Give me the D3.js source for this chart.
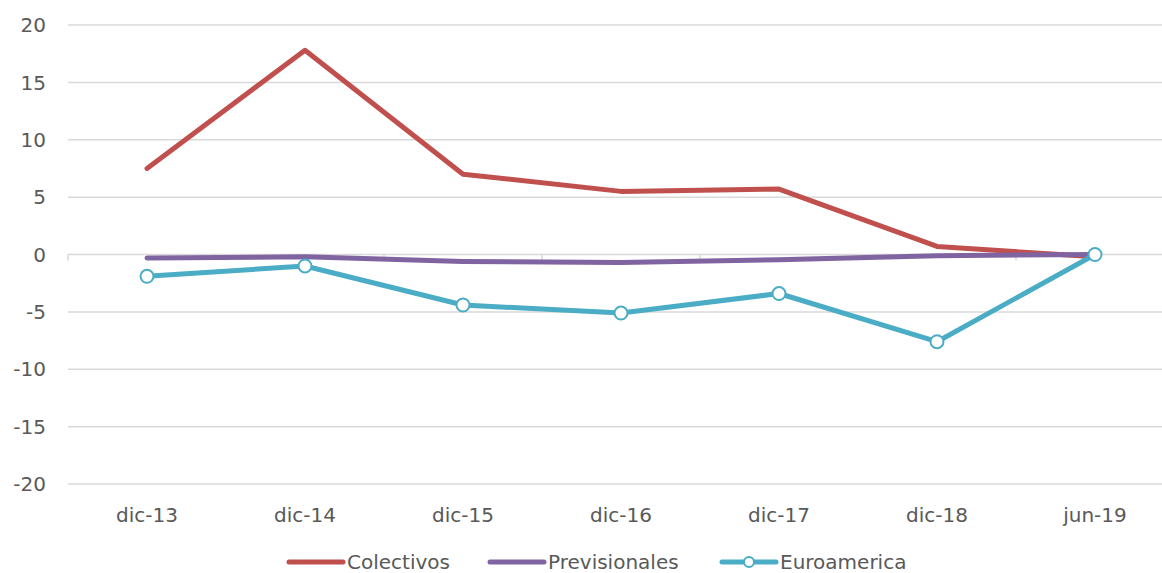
<!DOCTYPE html>
<html><head><meta charset="utf-8">
<script src="https://cdn.jsdelivr.net/npm/d3@7"></script>
<style>
body{margin:0;background:#fff;}
text{font-family:"DejaVu Sans",Verdana,sans-serif;fill:#595959;}
</style></head>
<body><svg id="c" width="1162" height="573"></svg>
<script>
const categories = ["dic-13","dic-14","dic-15","dic-16","dic-17","dic-18","jun-19"];
const colectivos = [7.5, 17.8, 7.0, 5.5, 5.7, 0.7, -0.2];
const previsionales = [-0.3, -0.2, -0.6, -0.7, -0.45, -0.1, 0.0];
const euroamerica = [-1.9, -1.0, -4.4, -5.1, -3.4, -7.6, 0.0];
const yTicks = [20, 15, 10, 5, 0, -5, -10, -15, -20];

const series = [
  {name:"Colectivos", values:colectivos, color:"#C0504D", marker:false},
  {name:"Previsionales", values:previsionales, color:"#8064A2", marker:false},
  {name:"Euroamerica", values:euroamerica, color:"#4BACC6", marker:true}
];

const svg = d3.select("#c");
const x = d3.scaleBand().domain(categories).range([68, 1174]);
const y = d3.scaleLinear().domain([-20, 20]).range([484, 25]);
const cx = d => x(d) + x.bandwidth()/2;

// gridlines
svg.append("g").selectAll("line").data(yTicks).join("line")
  .attr("x1", 68).attr("x2", 1162)
  .attr("y1", d => y(d)).attr("y2", d => y(d))
  .attr("stroke", "#d9d9d9").attr("stroke-width", 1.5);

// y labels
svg.append("g").selectAll("text").data(yTicks).join("text")
  .attr("x", 46).attr("y", d => y(d)).attr("dy", "0.36em")
  .attr("text-anchor", "end").attr("font-size", 20)
  .text(d => d);

// category ticks on zero line
const bounds = categories.map(c => x(c));
svg.append("g").selectAll("line").data(bounds).join("line")
  .attr("x1", d => d).attr("x2", d => d)
  .attr("y1", y(0)).attr("y2", y(0) + 6)
  .attr("stroke", "#d9d9d9").attr("stroke-width", 1.5);

// x labels
svg.append("g").selectAll("text").data(categories).join("text")
  .attr("x", d => cx(d)).attr("y", 522)
  .attr("text-anchor", "middle").attr("font-size", 20)
  .text(d => d);

const line = d3.line().x((v,i) => cx(categories[i])).y(v => y(v));

series.forEach(s => {
  svg.append("path").datum(s.values)
    .attr("d", line).attr("fill", "none")
    .attr("stroke", s.color).attr("stroke-width", 5)
    .attr("stroke-linejoin", "round").attr("stroke-linecap", "round");
  if (s.marker) {
    svg.append("g").selectAll("circle").data(s.values).join("circle")
      .attr("cx", (v,i) => cx(categories[i])).attr("cy", v => y(v))
      .attr("r", 6.5).attr("fill", "#fff")
      .attr("stroke", s.color).attr("stroke-width", 2);
  }
});

// legend
const legendItems = [
  {s:series[0], x:289},
  {s:series[1], x:490},
  {s:series[2], x:722}
];
const ly = 562;
legendItems.forEach(it => {
  const g = svg.append("g");
  g.append("line").attr("x1", it.x).attr("x2", it.x + 54)
    .attr("y1", ly).attr("y2", ly)
    .attr("stroke", it.s.color).attr("stroke-width", 5).attr("stroke-linecap", "round");
  if (it.s.marker) {
    g.append("circle").attr("cx", it.x + 27).attr("cy", ly).attr("r", 5)
      .attr("fill", "#fff").attr("stroke", it.s.color).attr("stroke-width", 2);
  }
  g.append("text").attr("x", it.x + 58).attr("y", ly).attr("dy", "0.34em")
    .attr("font-size", 20).text(it.s.name);
});
</script></body></html>
